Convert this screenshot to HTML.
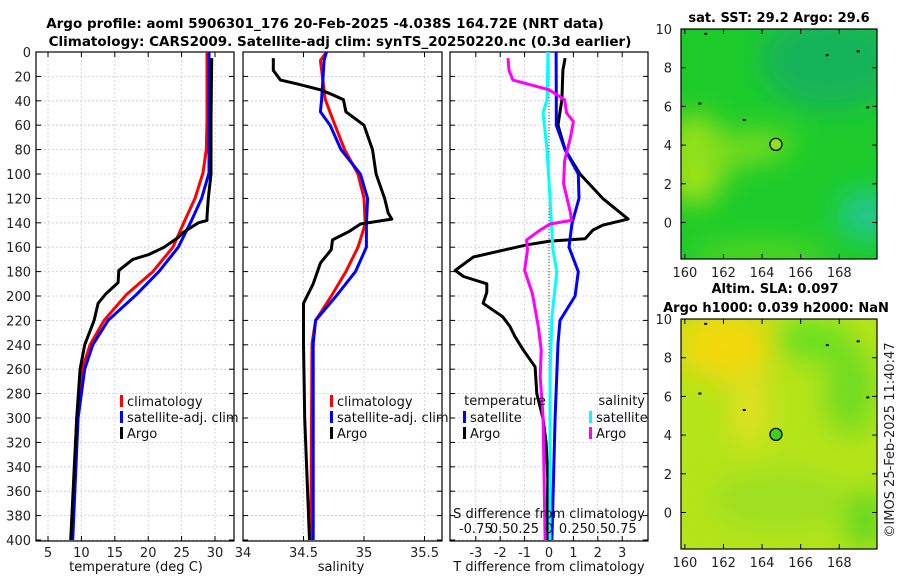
<!DOCTYPE html>
<html><head><meta charset="utf-8">
<style>
html,body{margin:0;padding:0;background:#fff;}
svg{display:block;font-family:"DejaVu Sans","Liberation Sans",sans-serif;}
</style></head>
<body>
<svg id="fig" width="900" height="580" viewBox="0 0 900 580">
<defs>
 <filter id="blur8" x="-50%" y="-50%" width="200%" height="200%"><feGaussianBlur stdDeviation="14"/></filter>
 <clipPath id="clipTop"><rect x="681" y="29" width="196" height="230"/></clipPath>
 <clipPath id="clipBot"><rect x="681" y="319" width="196" height="230"/></clipPath>
</defs>
<text x="325" y="28" font-size="13.5" font-weight="bold" text-anchor="middle">Argo profile: aoml 5906301_176 20-Feb-2025 -4.038S 164.72E (NRT data)</text>
<text x="340" y="46" font-size="13.5" font-weight="bold" text-anchor="middle">Climatology: CARS2009. Satellite-adj clim: synTS_20250220.nc (0.3d earlier)</text>

<!-- maps -->
<g clip-path="url(#clipTop)">
 <rect x="681" y="29" width="196" height="230" fill="#1ccb2a"/>
 <g filter="url(#blur8)">
  <ellipse cx="830" cy="60" rx="70" ry="50" fill="#18b45a"/>
  <ellipse cx="695" cy="160" rx="30" ry="45" fill="#a8e414"/>
  <ellipse cx="735" cy="150" rx="60" ry="16" fill="#7ede1e" transform="rotate(-8 735 150)"/>
  <ellipse cx="868" cy="215" rx="30" ry="25" fill="#20c890"/>
  <ellipse cx="760" cy="255" rx="70" ry="12" fill="#60d820"/>
 </g>
</g>
<rect x="681" y="29" width="196" height="230" fill="none" stroke="#000" stroke-width="1.2"/>
<g clip-path="url(#clipBot)">
 <rect x="681" y="319" width="196" height="230" fill="#b4e41a"/>
 <g filter="url(#blur8)">
  <ellipse cx="725" cy="345" rx="50" ry="35" fill="#f2d80a"/>
  <ellipse cx="750" cy="410" rx="18" ry="40" fill="#e4e020"/>
  <ellipse cx="810" cy="340" rx="40" ry="18" fill="#5ee020"/>
  <ellipse cx="850" cy="390" rx="25" ry="45" fill="#70dc20"/>
  <ellipse cx="865" cy="520" rx="20" ry="30" fill="#5ed820"/>
  <ellipse cx="780" cy="500" rx="70" ry="30" fill="#9ee020"/>
 </g>
</g>
<rect x="681" y="319" width="196" height="230" fill="none" stroke="#000" stroke-width="1.2"/>
<text x="779" y="22" font-size="13" font-weight="bold" text-anchor="middle">sat. SST: 29.2 Argo: 29.6</text>
<text x="775" y="293" font-size="13" font-weight="bold" text-anchor="middle">Altim. SLA: 0.097</text>
<text x="776" y="312" font-size="13" font-weight="bold" text-anchor="middle">Argo h1000: 0.039 h2000: NaN</text>
<text transform="translate(894,440) rotate(-90)" font-size="13" text-anchor="middle" fill="#222">©IMOS 25-Feb-2025 11:40:47</text>

<g id="charts"></g>
</svg>
<script>
// ---------- data ----------
const depthTicks = [0,20,40,60,80,100,120,140,160,180,200,220,240,260,280,300,320,340,360,380,400];
const tempTicks = [5,10,15,20,25,30];
const salTicks = [34,34.5,35,35.5];
const tdiffTicks = [-3,-2,-1,0,1,2,3];
const sdiffLabels = ["-0.75","0.5","0.25","0","0.25","0.5","0.75"];
const sdiffValues = [-0.75,-0.5,-0.25,0,0.25,0.5,0.75];

const climTDepth = [0,57,80,99,120,139,160,180,199,220,240,260,300,400];
const climT      = [28.8,28.8,28.7,28.2,27,25.4,23.7,20.7,16.7,13.4,11.3,10.1,9.3,8.6];
const satTDepth  = [0,57,99,120,139,160,180,199,220,240,260,300,400];
const satT       = [29.1,29.1,29.1,28,26.4,24.5,21.6,18.2,14,11.7,10.5,9.5,8.7];
const argoTDepth = [5,57,100,120,135,138,140,148,152,160,166,170,179,189,198,206,220,240,260,300,400];
const argoT      = [29.5,29.4,29.4,29,28.8,28.8,27.5,25.2,24.5,22.4,20.1,17.7,15.6,15.5,13.7,12.5,11.9,10.5,9.8,9.3,8.4];

const climSDepth = [0,7,39,60,80,100,120,141,160,180,200,220,239,400];
const climS      = [34.69,34.64,34.68,34.76,34.84,34.95,35.0,35.01,34.95,34.85,34.73,34.6,34.57,34.56];
const satSDepth  = [0,7,39,49,60,80,100,120,141,160,180,200,220,239,400];
const satS       = [34.69,34.67,34.65,34.64,34.72,34.81,34.97,35.03,35.02,35.02,34.93,34.77,34.6,34.58,34.58];
const argoSDepth = [5,15,23,26,31,35,39,49,60,80,100,120,132,137,141,147,154,162,173,190,206,239,300,400];
const argoS      = [34.25,34.25,34.31,34.44,34.64,34.74,34.83,34.85,35.0,35.07,35.1,35.17,35.2,35.23,34.97,34.88,34.74,34.73,34.64,34.58,34.5,34.5,34.51,34.55];

const dTArgoDepth = [5,15,39,60,80,100,120,137,142,146,153,155,158,168,179,184,190,197,206,217,225,233,244,258,280,300,320,350,400];
const dTArgo      = [0.66,0.57,0.53,0.37,0.66,1.27,2.2,3.24,2.2,1.8,1.48,0.04,-0.9,-3.1,-3.85,-3.5,-2.55,-2.55,-2.7,-1.9,-1.6,-1.4,-1.06,-0.57,-0.5,-0.25,-0.12,-0.05,-0.08];
const dTSatDepth  = [0,39,60,80,100,120,141,160,180,200,220,239,300,400];
const dTSat       = [0.29,0.3,0.3,0.66,1.2,1.23,0.94,0.82,1.2,1.07,0.45,0.37,0.25,0.12];
const dSSatDepth  = [0,39,50,80,120,162,180,217,266,400];
const dSSat       = [-0.01,-0.02,-0.06,-0.02,0.01,0.04,0.08,0.03,0.01,0.01];
const dSArgoDepth = [5,15,23,26,31,39,50,57,70,89,108,132,138,141,147,154,162,179,198,225,244,266,300,400];
const dSArgo      = [-0.42,-0.41,-0.37,-0.23,0.0,0.16,0.18,0.25,0.22,0.16,0.15,0.22,0.23,0.01,-0.11,-0.23,-0.22,-0.25,-0.17,-0.11,-0.08,-0.09,-0.06,-0.04];

const mapLonTicks = [160,162,164,166,168];
const mapLatTicks = [0,2,4,6,8,10];
const floatLon = 164.72, floatLat = 4.038;

// ---------- helpers ----------
const NS = "http://www.w3.org/2000/svg";
const root = document.getElementById('charts');
function mk(tag, attrs, parent){ const e=document.createElementNS(NS,tag); for(const k in attrs) e.setAttribute(k,attrs[k]); (parent||root).appendChild(e); return e; }
const TOP=52, BOT=541;
const yD = d => TOP + (d/400)*(BOT-TOP-1);

function panel(name, x0, x1, xScale, ticks, labelFn, yLabels){
  const g = mk('g',{});
  
  
  depthTicks.forEach(d=>{ mk('line',{x1:x0,x2:x1,y1:yD(d),y2:yD(d),stroke:'#c4c8e6','stroke-width':0.8,'stroke-dasharray':'2,2'},g); });
  ticks.forEach(t=>{ const x=xScale(t); mk('line',{x1:x,x2:x,y1:TOP,y2:BOT,stroke:'#d4c8dc','stroke-width':0.8,'stroke-dasharray':'2,2'},g); });
  mk('rect',{x:x0,y:TOP,width:x1-x0,height:BOT-TOP,fill:'none',stroke:'#000','stroke-width':1.2},g);
  depthTicks.forEach(d=>{ mk('line',{x1:x0,x2:x0+5,y1:yD(d),y2:yD(d),stroke:'#000'},g); mk('line',{x1:x1-5,x2:x1,y1:yD(d),y2:yD(d),stroke:'#000'},g);
    if(yLabels){ const t=mk('text',{x:x0-5,y:yD(d)+5,'font-size':13,'text-anchor':'end',fill:'#222'},g); t.textContent=d;
        }});
  ticks.forEach((v,i)=>{ const x=xScale(v); mk('line',{x1:x,x2:x,y1:BOT-5,y2:BOT,stroke:'#000'},g); mk('line',{x1:x,x2:x,y1:TOP,y2:TOP+5,stroke:'#000'},g);
    const t=mk('text',{x:x,y:BOT+16,'font-size':13,'text-anchor':'middle',fill:'#222'},g); t.textContent=labelFn(v,i);
      });
  return g;
}
function series(g, name, depths, vals, xScale, color){
  const pts = depths.map((d,i)=>xScale(vals[i]).toFixed(1)+','+yD(d).toFixed(1)).join(' ');
  const p = mk('polyline',{points:pts,fill:'none',stroke:color,'stroke-width':3,'stroke-linejoin':'round'},g);
  
  
}
function legend(g, x, y, color, label, name){
  const le = mk('g',{},g);
  
  
  mk('rect',{x:x,y:y-11,width:3,height:12,fill:color},le);
  const t=mk('text',{x:x+7,y:y,'font-size':13,fill:'#111'},le); t.textContent=label;
}
function txt(g,x,y,s,anchor,name){ const t=mk('text',{x:x,y:y,'font-size':13,'text-anchor':anchor||'middle',fill:'#111'},g); t.textContent=s;
    return t; }

// Panel 1: temperature
const xT = v => 48 + (v-5)*6.68;
const g1 = panel('temperature-panel', 36, 234, xT, tempTicks, v=>v, true);
series(g1,'temp-climatology-line',climTDepth,climT,xT,'#ff0000');
series(g1,'temp-satellite-line',satTDepth,satT,xT,'#0000ff');
series(g1,'temp-argo-line',argoTDepth,argoT,xT,'#000000');
legend(g1,120,406,'#ff0000','climatology','legend-climatology');
legend(g1,120,422,'#0000ff','satellite-adj. clim','legend-satellite-adj');
legend(g1,120,438,'#000000','Argo','legend-argo');
txt(g1,136,571,'temperature (deg C)','middle','x-axis-title-temperature');

// Panel 2: salinity
const xS = v => 243 + (v-34)*121;
const g2 = panel('salinity-panel', 243, 442, xS, salTicks, v=>v, false);
series(g2,'sal-climatology-line',climSDepth,climS,xS,'#ff0000');
series(g2,'sal-satellite-line',satSDepth,satS,xS,'#0000ff');
series(g2,'sal-argo-line',argoSDepth,argoS,xS,'#000000');
legend(g2,330,406,'#ff0000','climatology','legend-climatology');
legend(g2,330,422,'#0000ff','satellite-adj. clim','legend-satellite-adj');
legend(g2,330,438,'#000000','Argo','legend-argo');
txt(g2,341,571,'salinity','middle','x-axis-title-salinity');

// Panel 3: differences
const xDT = v => 549 + v*24.4;
const xDS = v => 549 + v*97.6;
const g3 = panel('difference-panel', 450, 648, xDT, tdiffTicks, v=>v, false);
mk('line',{x1:549,x2:549,y1:yD(5),y2:BOT,stroke:'#333','stroke-width':1,'stroke-dasharray':'1,2'},g3);
series(g3,'tdiff-argo-line',dTArgoDepth,dTArgo,xDT,'#000000');
series(g3,'tdiff-satellite-line',dTSatDepth,dTSat,xDT,'#0000ff');
series(g3,'sdiff-satellite-line',dSSatDepth,dSSat,xDS,'#00ffff');
series(g3,'sdiff-argo-line',dSArgoDepth,dSArgo,xDS,'#ff00ff');
txt(g3,505,405,'temperature','middle','legend-temperature-header');
legend(g3,463,422,'#0000ff','satellite','legend-t-satellite');
legend(g3,463,438,'#000000','Argo','legend-t-argo');
txt(g3,645,405,'salinity','end','legend-salinity-header');
legend(g3,589,422,'#00ffff','satellite','legend-s-satellite');
legend(g3,589,438,'#ff00ff','Argo','legend-s-argo');
txt(g3,549,518,'S difference from climatology','middle','s-axis-title');
sdiffValues.forEach((v,i)=>{ const t=txt(g3,xDS(v),533,sdiffLabels[i],'middle','s-tick-label'); });
txt(g3,549,571,'T difference from climatology','middle','x-axis-title-tdiff');

// Maps axes
const mlon = v => 681 + (v-159.8)*19.3;
function mapAxes(name, top){
  const g = mk('g',{});
  
  
  const mlat = v => top + (10-v)*19.35;
  mapLonTicks.forEach(v=>{ const x=mlon(v); mk('line',{x1:x,x2:x,y1:top+230,y2:top+225,stroke:'#000'},g); mk('line',{x1:x,x2:x,y1:top,y2:top+5,stroke:'#000'},g);
    const t=mk('text',{x:x,y:top+248,'font-size':13,'text-anchor':'middle',fill:'#222'},g); t.textContent=v;
      });
  mapLatTicks.forEach(v=>{ const y=mlat(v); mk('line',{x1:681,x2:686,y1:y,y2:y,stroke:'#000'},g); mk('line',{x1:872,x2:877,y1:y,y2:y,stroke:'#000'},g);
    const t=mk('text',{x:672,y:y+5,'font-size':13,'text-anchor':'end',fill:'#222'},g); t.textContent=v;
      });
  const c = mk('circle',{cx:mlon(floatLon),cy:mlat(floatLat),r:6,fill:top<100?'#8ee020':'#3cd020',stroke:'#000','stroke-width':1.3},g);
  
  
  [[163,5.35],[168.9,8.9],[169.4,6],[167.3,8.7],[161,9.8],[160.7,6.2]].forEach(p=>{
    mk('rect',{x:mlon(p[0]),y:mlat(p[1]),width:3,height:2,fill:'#000'},g); });
}
mapAxes('sst-map-axes', 29);
mapAxes('sla-map-axes', 319);
</script>
</body></html>
